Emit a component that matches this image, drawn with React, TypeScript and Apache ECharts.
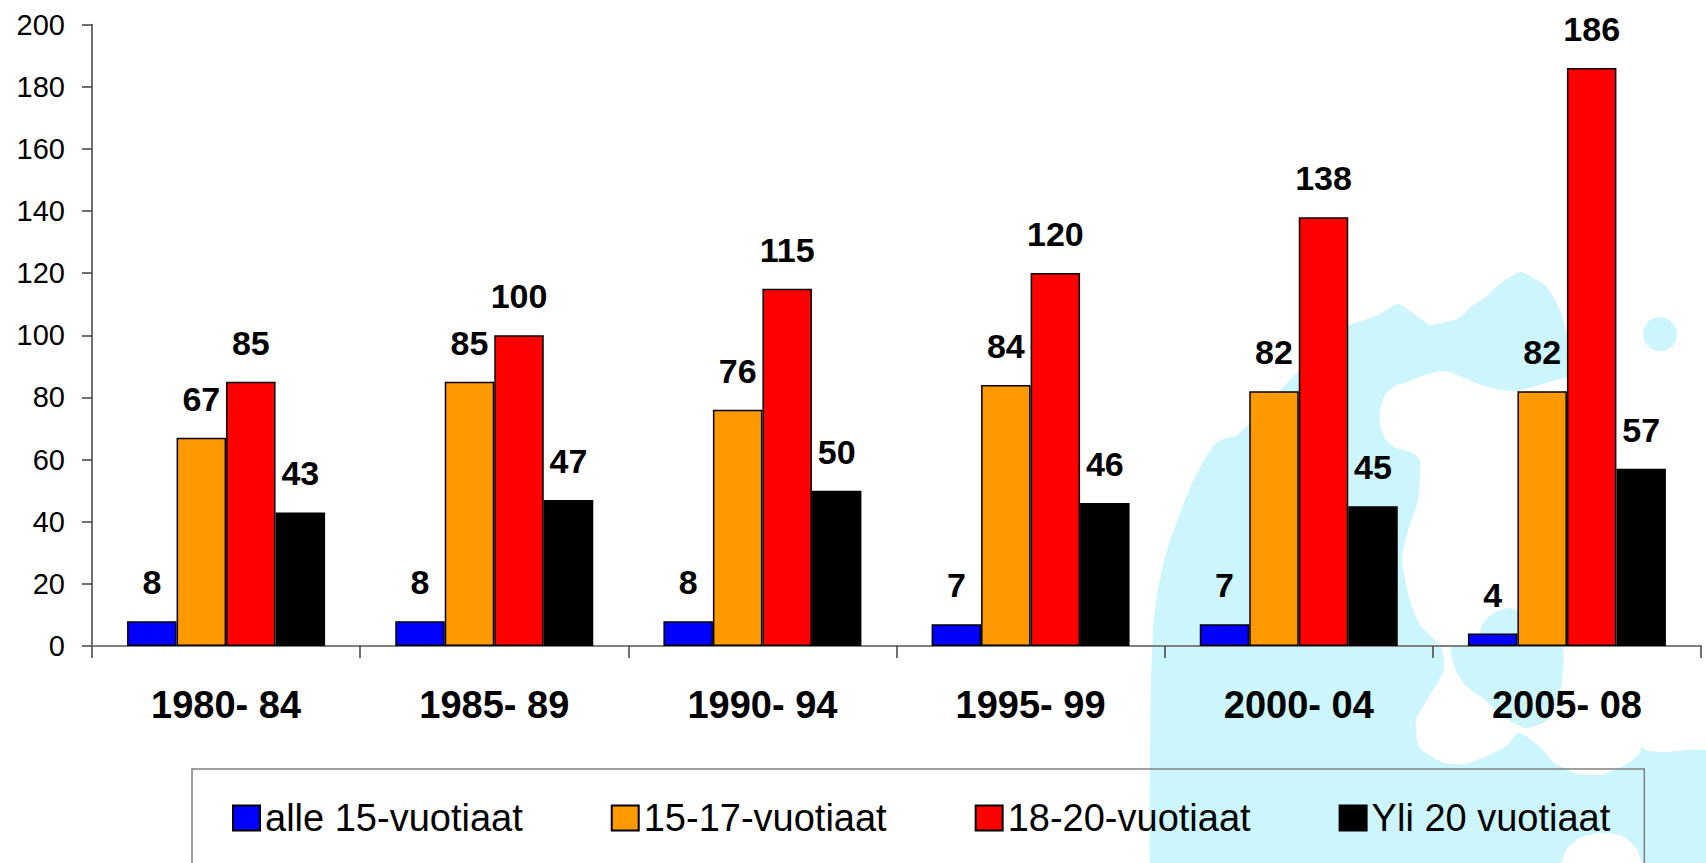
import React, { useEffect, useRef } from "react";
import * as echarts from "echarts";

const categories = ["1980- 84", "1985- 89", "1990- 94", "1995- 99", "2000- 04", "2005- 08"];
const seriesNames = ["alle 15-vuotiaat", "15-17-vuotiaat", "18-20-vuotiaat", "Yli 20 vuotiaat"];
const alle15 = [8, 8, 8, 7, 7, 4];
const v15to17 = [67, 85, 76, 84, 82, 82];
const v18to20 = [85, 100, 115, 120, 138, 186];
const yli20 = [43, 47, 50, 46, 45, 57];
const seriesColors = ["#0000FF", "#FF9900", "#FF0000", "#000000"];

const FONT = "'Liberation Sans', Arial, sans-serif";
const CYAN = "#CCF5FC";

// decorative background "globe" watermark outlines (pixel coordinates)
const globeOuter = [
  [1155, 870], [1150, 865], [1150, 760], [1151, 680], [1153, 630], [1157, 595], [1163, 565],
  [1170, 540], [1177, 522], [1185, 500], [1193, 481], [1204, 460], [1216, 443], [1226, 438],
  [1236, 436], [1248, 425], [1290, 380], [1330, 340], [1349, 325], [1365, 320], [1380, 314],
  [1398, 304], [1414, 314], [1430, 325], [1445, 322], [1458, 319], [1472, 306], [1487, 296],
  [1497, 286], [1505, 280], [1515, 274], [1522, 272], [1533, 278], [1545, 285], [1555, 300],
  [1562, 315], [1568, 340], [1590, 420], [1605, 560], [1612, 640], [1620, 700], [1632, 735],
  [1646, 750], [1664, 752], [1690, 750], [1710, 752], [1710, 865], [1705, 870],
];
const globeHole = [
  [1380, 411], [1385, 395], [1395, 386], [1405, 383], [1425, 375], [1444, 371], [1460, 376],
  [1476, 383], [1495, 389], [1515, 391], [1540, 385], [1566, 378], [1600, 380], [1645, 400],
  [1645, 700], [1640, 752], [1625, 765], [1600, 775], [1575, 773], [1554, 763], [1540, 747],
  [1519, 733], [1505, 747], [1469, 763], [1444, 763], [1419, 747], [1416, 720], [1427, 700],
  [1444, 670], [1441, 647], [1420, 625], [1410, 600], [1402, 560], [1408, 530], [1418, 500],
  [1420, 460], [1410, 452], [1396, 448], [1386, 440], [1380, 425],
];
const globeBlobB = [
  [1452, 646], [1561, 646], [1562, 680], [1556, 705], [1545, 722], [1525, 728], [1505, 718],
  [1485, 700], [1465, 685], [1455, 668],
];
const globeBump = [[1478, 646], [1482, 625], [1495, 612], [1510, 608], [1518, 612], [1518, 646]];
const globeHole2 = [
  [1562, 870], [1566, 850], [1580, 838], [1600, 833], [1622, 836], [1636, 848], [1642, 870],
];

export default function App() {
  const ref = useRef<HTMLDivElement>(null);

  useEffect(() => {
    if (!ref.current) return;
    const chart = echarts.init(ref.current, undefined, { renderer: "svg" });
    const values = [alle15, v15to17, v18to20, yli20];

    const poly = (points: number[][], fill: string, z: number) => ({
      type: "polygon",
      z,
      silent: true,
      shape: { smooth: 0.2, points },
      style: { fill },
    });

    const bg = [
      poly(globeOuter, CYAN, -10),
      poly(globeHole, "#FFFFFF", -9),
      poly(globeBlobB, CYAN, -8),
      poly(globeBump, CYAN, -8),
      poly(globeHole2, "#FFFFFF", -8),
      {
        type: "circle",
        z: -8,
        silent: true,
        shape: { cx: 1660, cy: 334, r: 17 },
        style: { fill: CYAN },
      },
    ];

    chart.setOption({
      animation: false,
      backgroundColor: "#FFFFFF",
      graphic: bg,
      grid: { left: 92, right: 5, top: 24.5, bottom: 217, containLabel: false },
      legend: {
        data: seriesNames,
        left: 192,
        top: 769,
        orient: "horizontal",
        padding: [30, 34, 100, 40],
        borderColor: "#808080",
        borderWidth: 1.5,
        itemWidth: 27,
        itemHeight: 25,
        itemGap: 88,
        icon: "rect",
        textStyle: { fontSize: 38, fontFamily: FONT, color: "#000", lineHeight: 38 },
      },
      xAxis: {
        type: "category",
        data: categories,
        axisLine: { lineStyle: { color: "#808080", width: 2 } },
        axisTick: { show: true, length: 12, lineStyle: { color: "#404040", width: 1.5 } },
        axisLabel: {
          fontSize: 38,
          fontWeight: "bold",
          fontFamily: FONT,
          color: "#000",
          margin: 40,
          lineHeight: 38,
        },
      },
      yAxis: {
        type: "value",
        min: 0,
        max: 200,
        interval: 20,
        splitLine: { show: false },
        axisLine: { show: true, lineStyle: { color: "#404040", width: 1.5 } },
        axisTick: { show: true, length: 10, lineStyle: { color: "#404040", width: 1.5 } },
        axisLabel: { fontSize: 29, fontFamily: FONT, color: "#000", margin: 27 },
      },
      series: seriesNames.map((name, i) => ({
        name,
        type: "bar",
        data: values[i],
        barWidth: 49.5,
        barGap: "0%",
        itemStyle: { color: seriesColors[i], borderColor: "#000", borderWidth: 1.5 },
        label: {
          show: true,
          position: "top",
          distance: 22,
          fontSize: 34,
          fontWeight: "bold",
          fontFamily: FONT,
          color: "#000",
          lineHeight: 34,
        },
      })),
    });

    return () => chart.dispose();
  }, []);

  return (
    <div
      ref={ref}
      style={{ position: "fixed", left: 0, top: 0, width: 1706, height: 863 }}
    />
  );
}
